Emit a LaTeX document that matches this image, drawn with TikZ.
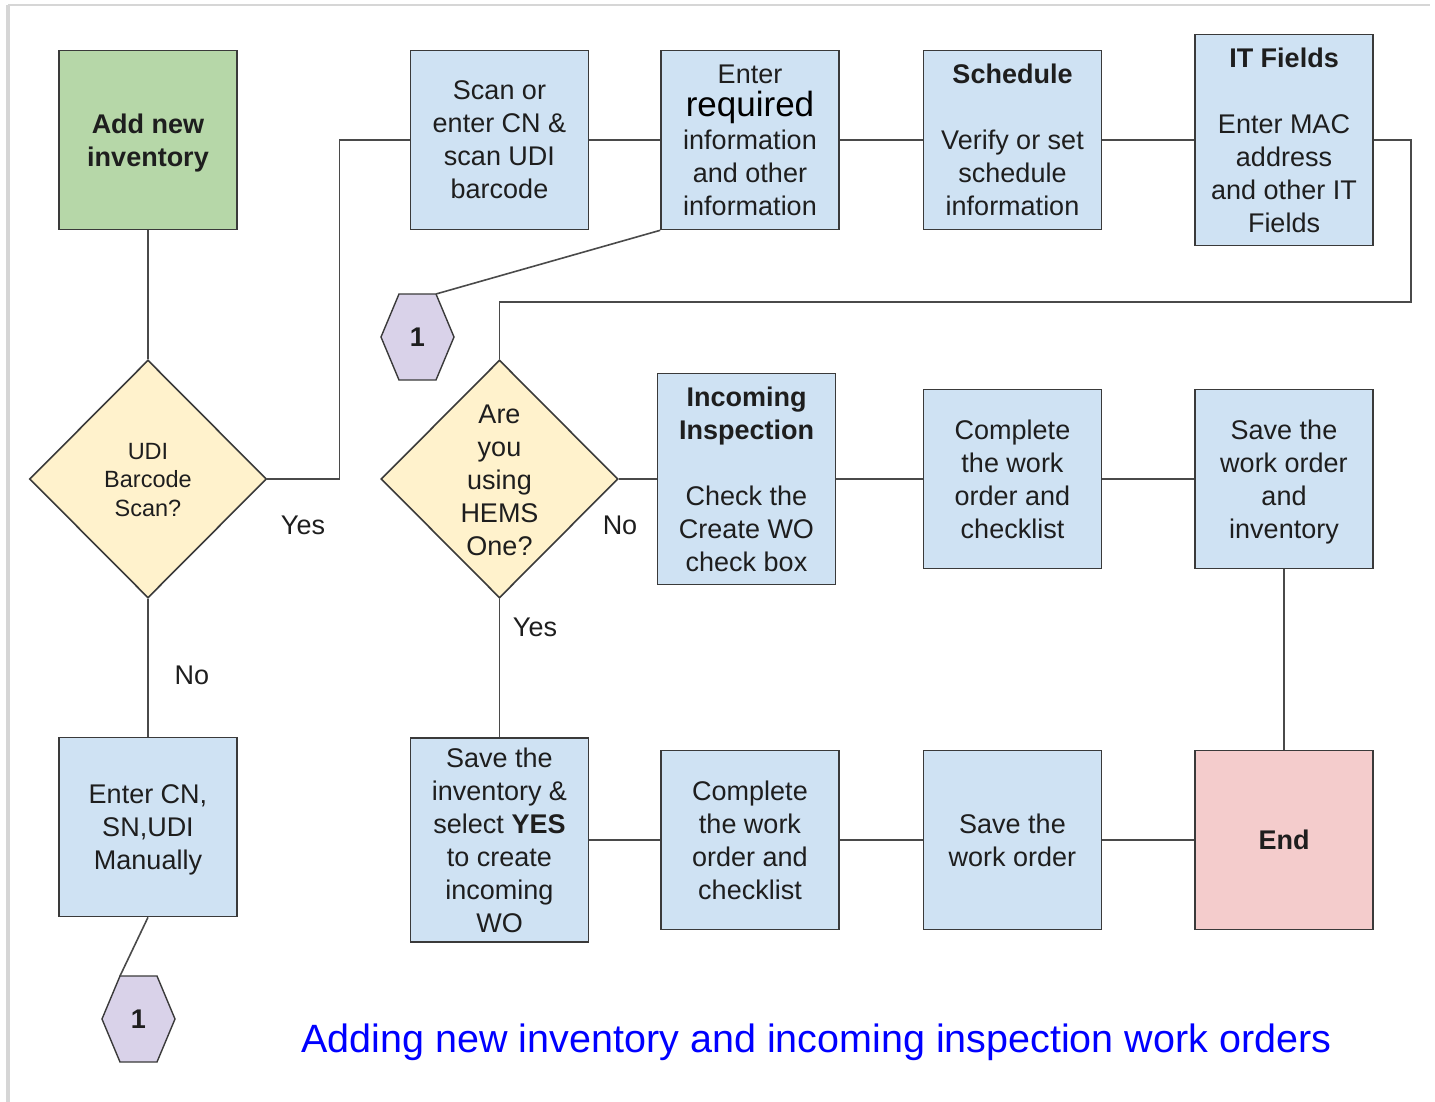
\documentclass[tikz,border=0pt]{standalone}
\usepackage{fontspec}
\setmainfont{Liberation Sans}
\usetikzlibrary{shapes.geometric,calc}
\definecolor{boxblue}{HTML}{CFE2F3}
\definecolor{boxgreen}{HTML}{B6D7A8}
\definecolor{boxyellow}{HTML}{FFF2CC}
\definecolor{boxpurple}{HTML}{D9D2E9}
\definecolor{boxpink}{HTML}{F4CCCC}
\definecolor{edgegray}{HTML}{3A3A3A}
\definecolor{wiregray}{HTML}{4A4A4A}
\definecolor{inkgray}{HTML}{1E1E1E}
\definecolor{framegray}{HTML}{D6D6D6}
\definecolor{titleblue}{HTML}{0000FF}
\begin{document}
\begin{tikzpicture}[x=1pt,y=-1pt,
  every node/.style={text=inkgray},
  box/.style={draw=edgegray, line width=1.6pt, fill=boxblue, minimum width=178pt,
    minimum height=179pt, align=center, inner sep=0pt, text depth=0pt,
    font=\fontsize{27}{33}\selectfont},
  decision/.style={diamond, draw=edgegray, line width=1.6pt, fill=boxyellow,
    minimum width=237pt, minimum height=238pt, inner sep=0pt},
  dtext/.style={align=center, inner sep=0pt, font=\fontsize{27}{33}\selectfont},
  hexfill/.style={draw=edgegray, line width=1.4pt, fill=boxpurple, line join=miter},
  hextext/.style={inner sep=0pt, font=\fontsize{27}{33}\selectfont\bfseries},
  wire/.style={draw=wiregray, line width=1.6pt},
  lbl/.style={inner sep=0pt, font=\fontsize{27}{33}\selectfont},
]
\useasboundingbox (0,0) rectangle (1435,1102);

% page frame
\draw[framegray, line width=2pt] (8,5) -- (1430,5);
\draw[framegray, line width=4pt] (8,5) -- (8,1102);

% left column
\node[box, fill=boxgreen, font=\fontsize{27}{33}\selectfont\bfseries] (add) at (148,140) {Add new\\inventory};
\node[decision] (udi) at (148,479) {};
\node[dtext, font=\fontsize{23.5}{28.5}\selectfont] (udiT) at (148,480) {UDI\\Barcode\\Scan?};
\node[box] (entercn) at (148,827) {Enter CN,\\SN,UDI\\Manually};

% top row
\node[box] (scan) at (499.5,140) {Scan or\\enter CN \&\\scan UDI\\barcode};
\node[box] (req) at (750,140) {Enter\\{\fontsize{35}{36}\selectfont\color{black}required}\\information\\and other\\information};
\node[box] (sched) at (1012.5,140) {\textbf{Schedule}\\[33pt]Verify or set\\schedule\\information};
\node[box, minimum height=211pt] (itf) at (1284,140) {\textbf{IT Fields}\\[33pt]Enter MAC\\address\\and other IT\\Fields};

% middle row
\node[decision] (hems) at (499.5,479) {};
\node[dtext] (hemsT) at (499.5,480) {Are\\you\\using\\HEMS\\One?};
\node[box, minimum height=211pt] (insp) at (746.5,479) {\textbf{Incoming}\\\textbf{Inspection}\\[33pt]Check the\\Create WO\\check box};
\node[box] (comp1) at (1012.5,479) {Complete\\the work\\order and\\checklist};
\node[box] (savewi) at (1284,479) {Save the\\work order\\and\\inventory};

% bottom row
\node[box, minimum height=204pt] (saveinv) at (499.5,840) {Save the\\inventory \&\\select \textbf{YES}\\to create\\incoming\\WO};
\node[box] (comp2) at (750,840) {Complete\\the work\\order and\\checklist};
\node[box] (savewo) at (1012.5,840) {Save the\\work order};
\node[box, fill=boxpink, font=\fontsize{27}{33}\selectfont\bfseries] (endn) at (1284,840) {End};

% off-page connectors
\coordinate (h1c) at (417.5,337);
\draw[hexfill] ($(h1c)+(-36.5,0)$) -- ($(h1c)+(-18.5,-43)$) -- ($(h1c)+(18.5,-43)$)
  -- ($(h1c)+(36.5,0)$) -- ($(h1c)+(18.5,43)$) -- ($(h1c)+(-18.5,43)$) -- cycle;
\coordinate (h1tr) at ($(h1c)+(18.5,-43)$);
\node[hextext] (hex1) at (h1c) {1};

\coordinate (h2c) at (138.5,1019);
\draw[hexfill] ($(h2c)+(-36.5,0)$) -- ($(h2c)+(-18.5,-43)$) -- ($(h2c)+(18.5,-43)$)
  -- ($(h2c)+(36.5,0)$) -- ($(h2c)+(18.5,43)$) -- ($(h2c)+(-18.5,43)$) -- cycle;
\coordinate (h2tl) at ($(h2c)+(-18.5,-43)$);
\node[hextext] (hex2) at (h2c) {1};

% connectors
\draw[wire] (add.south) -- (udi.north);
\draw[wire] (udi.south) -- (entercn.north);
\draw[wire] (udi.east) -- ++(72,0) |- (scan.west);
\draw[wire] (scan.east) -- (req.west);
\draw[wire] (req.east) -- (sched.west);
\draw[wire] (sched.east) -- (itf.west);
\draw[wire] (itf.east) -- ++(37,0) -- ++(0,162) -| (hems.north);
\draw[wire] (req.south west) -- (h1tr);
\draw[wire] (entercn.south) -- (h2tl);
\draw[wire] (hems.east) -- (insp.west);
\draw[wire] (insp.east) -- (comp1.west);
\draw[wire] (comp1.east) -- (savewi.west);
\draw[wire] (savewi.south) -- (endn.north);
\draw[wire] (hems.south) -- (saveinv.north);
\draw[wire] (saveinv.east) -- (comp2.west);
\draw[wire] (comp2.east) -- (savewo.west);
\draw[wire] (savewo.east) -- (endn.west);

% branch labels
\node[lbl] (yes1) at (303,525) {Yes};
\node[lbl] (no1) at (192,675) {No};
\node[lbl] (no2) at (620,525) {No};
\node[lbl] (yes2) at (535,627) {Yes};

% caption
\node[inner sep=0pt, text=titleblue, font=\fontsize{39.5}{45}\selectfont] (title) at (816.5,1042)
  {Adding new inventory and incoming inspection work orders};
\end{tikzpicture}
\end{document}
